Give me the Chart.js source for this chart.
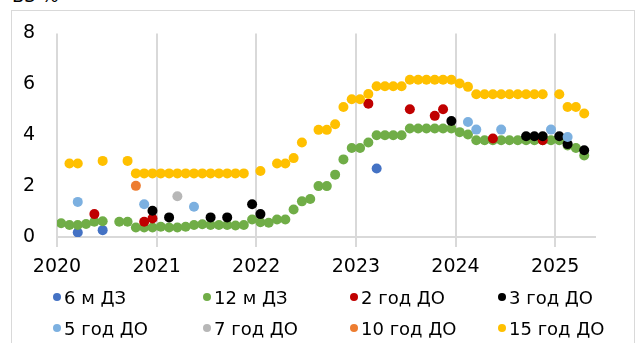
<!DOCTYPE html>
<html>
<head>
<meta charset="utf-8">
<script src="https://cdn.jsdelivr.net/npm/chart.js@4.4.1/dist/chart.umd.min.js"></script>
<style>
  html, body { margin: 0; padding: 0; background: #fff; overflow: hidden; }
  #wrap { position: relative; width: 639px; height: 343px; font-family: "DejaVu Sans", sans-serif; color: #000; }
  #frame { position: absolute; left: 11px; top: 10px; width: 622px; height: 345px; border: 1px solid #d9d9d9; }
  #title { position: absolute; left: 12px; top: -15px; font-size: 18px; }
  canvas { position: absolute; left: 0; top: 0; }
  .item { position: absolute; font-size: 18px; line-height: 22px; white-space: nowrap; }
  .dot { display: inline-block; width: 8px; height: 8px; border-radius: 50%; margin-right: 3px; vertical-align: 3px; }
</style>
</head>
<body>
<div id="wrap">
  <div id="frame"></div>
  <div id="title">ВЗ %</div>
  <canvas id="grafico" width="639" height="343"></canvas>
  <div id="legenda"></div>
</div>
<script>
// Dados (meses no formato AAAA-MM)
const yearTicks = [2020, 2021, 2022, 2023, 2024, 2025];

const dates6m = ['2020-03', '2020-06', '2023-03'];
const vals6m = [0.18, 0.27, 2.69];

const dates12m = ['2020-01', '2020-02', '2020-03', '2020-04', '2020-05', '2020-06', '2020-08', '2020-09', '2020-10', '2020-11', '2020-12',
  '2021-01', '2021-02', '2021-03', '2021-04', '2021-05', '2021-06', '2021-07', '2021-08', '2021-09', '2021-10', '2021-11', '2021-12',
  '2022-01', '2022-02', '2022-03', '2022-04', '2022-05', '2022-06', '2022-07', '2022-08', '2022-09', '2022-10', '2022-11', '2022-12',
  '2023-01', '2023-02', '2023-03', '2023-04', '2023-05', '2023-06', '2023-07', '2023-08', '2023-09', '2023-10', '2023-11', '2023-12',
  '2024-01', '2024-02', '2024-03', '2024-04', '2024-05', '2024-06', '2024-07', '2024-08', '2024-09', '2024-10', '2024-11', '2024-12',
  '2025-01', '2025-02', '2025-03', '2025-04'];
const vals12m = [0.54, 0.47, 0.47, 0.51, 0.6, 0.62, 0.6, 0.6, 0.37, 0.37, 0.37,
  0.4, 0.37, 0.37, 0.4, 0.47, 0.5, 0.47, 0.47, 0.47, 0.45, 0.47, 0.69,
  0.58, 0.56, 0.69, 0.69, 1.08, 1.4, 1.49, 2.0, 2.0, 2.45, 3.05, 3.5,
  3.5, 3.71, 4.0, 4.0, 4.0, 4.0, 4.26, 4.26, 4.26, 4.26, 4.26, 4.26,
  4.12, 4.03, 3.8, 3.8, 3.8, 3.8, 3.8, 3.8, 3.8, 3.8, 3.8, 3.8,
  3.8, 3.6, 3.5, 3.2];

const dates2y = ['2020-05', '2020-11', '2020-12', '2023-02', '2023-07', '2023-10', '2023-11', '2024-05', '2024-11'];
const vals2y = [0.9, 0.6, 0.73, 5.24, 5.02, 4.76, 5.02, 3.87, 3.8];

const dates3y = ['2020-12', '2021-02', '2021-07', '2021-09', '2021-12', '2022-01', '2023-12', '2024-09', '2024-10', '2024-11', '2025-01', '2025-02', '2025-04'];
const vals3y = [1.03, 0.77, 0.77, 0.77, 1.29, 0.9, 4.56, 3.96, 3.96, 3.96, 3.96, 3.65, 3.41];

const dates5y = ['2020-03', '2020-11', '2021-05', '2024-02', '2024-03', '2024-06', '2024-12', '2025-02'];
const vals5y = [1.38, 1.29, 1.19, 4.52, 4.22, 4.22, 4.22, 3.93];

const dates7y = ['2021-03'];
const vals7y = [1.6];

const dates10y = ['2020-10'];
const vals10y = [2.01];

const dates15y = ['2020-02', '2020-03', '2020-06', '2020-09', '2020-10', '2020-11', '2020-12',
  '2021-01', '2021-02', '2021-03', '2021-04', '2021-05', '2021-06', '2021-07', '2021-08', '2021-09', '2021-10', '2021-11',
  '2022-01', '2022-03', '2022-04', '2022-05', '2022-06', '2022-08', '2022-09', '2022-10', '2022-11', '2022-12',
  '2023-01', '2023-02', '2023-03', '2023-04', '2023-05', '2023-06', '2023-07', '2023-08', '2023-09', '2023-10', '2023-11', '2023-12',
  '2024-01', '2024-02', '2024-03', '2024-04', '2024-05', '2024-06', '2024-07', '2024-08', '2024-09', '2024-10', '2024-11',
  '2025-01', '2025-02', '2025-03', '2025-04'];
const vals15y = [2.89, 2.89, 2.99, 2.99, 2.5, 2.5, 2.5,
  2.5, 2.5, 2.5, 2.5, 2.5, 2.5, 2.5, 2.5, 2.5, 2.5, 2.5,
  2.59, 2.89, 2.89, 3.1, 3.71, 4.21, 4.21, 4.43, 5.11, 5.41,
  5.41, 5.62, 5.92, 5.92, 5.92, 5.92, 6.18, 6.18, 6.18, 6.18, 6.18, 6.18,
  6.03, 5.9, 5.61, 5.61, 5.61, 5.61, 5.61, 5.61, 5.61, 5.61, 5.61,
  5.61, 5.11, 5.11, 4.85];

const labels = ['6 м ДЗ', '12 м ДЗ', '2 год ДО', '3 год ДО', '5 год ДО', '7 год ДО', '10 год ДО', '15 год ДО'];
const colors = ['#4472c4', '#70ad47', '#c00000', '#000000', '#7cb0e0', '#b7b7b7', '#ed7d31', '#ffc000'];
const allDates = [dates6m, dates12m, dates2y, dates3y, dates5y, dates7y, dates10y, dates15y];
const allVals = [vals6m, vals12m, vals2y, vals3y, vals5y, vals7y, vals10y, vals15y];

// mês -> posição no eixo (meio do mês)
function toX(d) {
  const [a, m] = d.split('-').map(Number);
  return a + (m - 0.5) / 12;
}

const fonte = '"DejaVu Sans", sans-serif';

document.addEventListener('DOMContentLoaded', function () {
  const ctx = document.getElementById('grafico');

  const datasets = labels.map((label, i) => ({
    label: label,
    data: allDates[i].map((d, j) => ({ x: toX(d), y: allVals[i][j] })),
    backgroundColor: colors[i],
    borderWidth: 0,
    pointRadius: 5,
    order: labels.length - i // série seguinte fica por cima
  }));

  new Chart(ctx, {
    type: 'scatter',
    data: { datasets: datasets },
    options: {
      responsive: false,
      animation: false,
      layout: { padding: { top: 33, right: 44, bottom: 0, left: 0 } },
      plugins: {
        legend: { display: false },
        tooltip: { enabled: false }
      },
      scales: {
        x: {
          type: 'linear',
          min: 2020,
          max: 2025.4,
          afterBuildTicks: s => { s.ticks = yearTicks.map(v => ({ value: v })); },
          afterFit: s => { s.height = 106; },
          grid: { color: '#d9d9d9', lineWidth: 2, tickLength: 10 },
          border: { color: '#d9d9d9', width: 2 },
          ticks: { font: { size: 19, family: fonte }, color: '#000', padding: 9, maxRotation: 0, callback: v => String(v) }
        },
        y: {
          min: 0,
          max: 8,
          afterFit: s => { s.width = 57; },
          grid: { display: false, drawTicks: false },
          border: { display: false },
          ticks: { stepSize: 2, font: { size: 19, family: fonte }, color: '#000', padding: 22 }
        }
      }
    }
  });

  // legenda manual em 2 linhas x 4 colunas
  const legenda = document.getElementById('legenda');
  const colX = [53, 203, 350, 498];
  const rowY = [287, 318];
  labels.forEach((label, i) => {
    const el = document.createElement('div');
    el.className = 'item';
    el.style.left = colX[i % 4] + 'px';
    el.style.top = rowY[Math.floor(i / 4)] + 'px';
    el.innerHTML = '<span class="dot" style="background:' + colors[i] + '"></span>' + label;
    legenda.appendChild(el);
  });
});
</script>
</body>
</html>
